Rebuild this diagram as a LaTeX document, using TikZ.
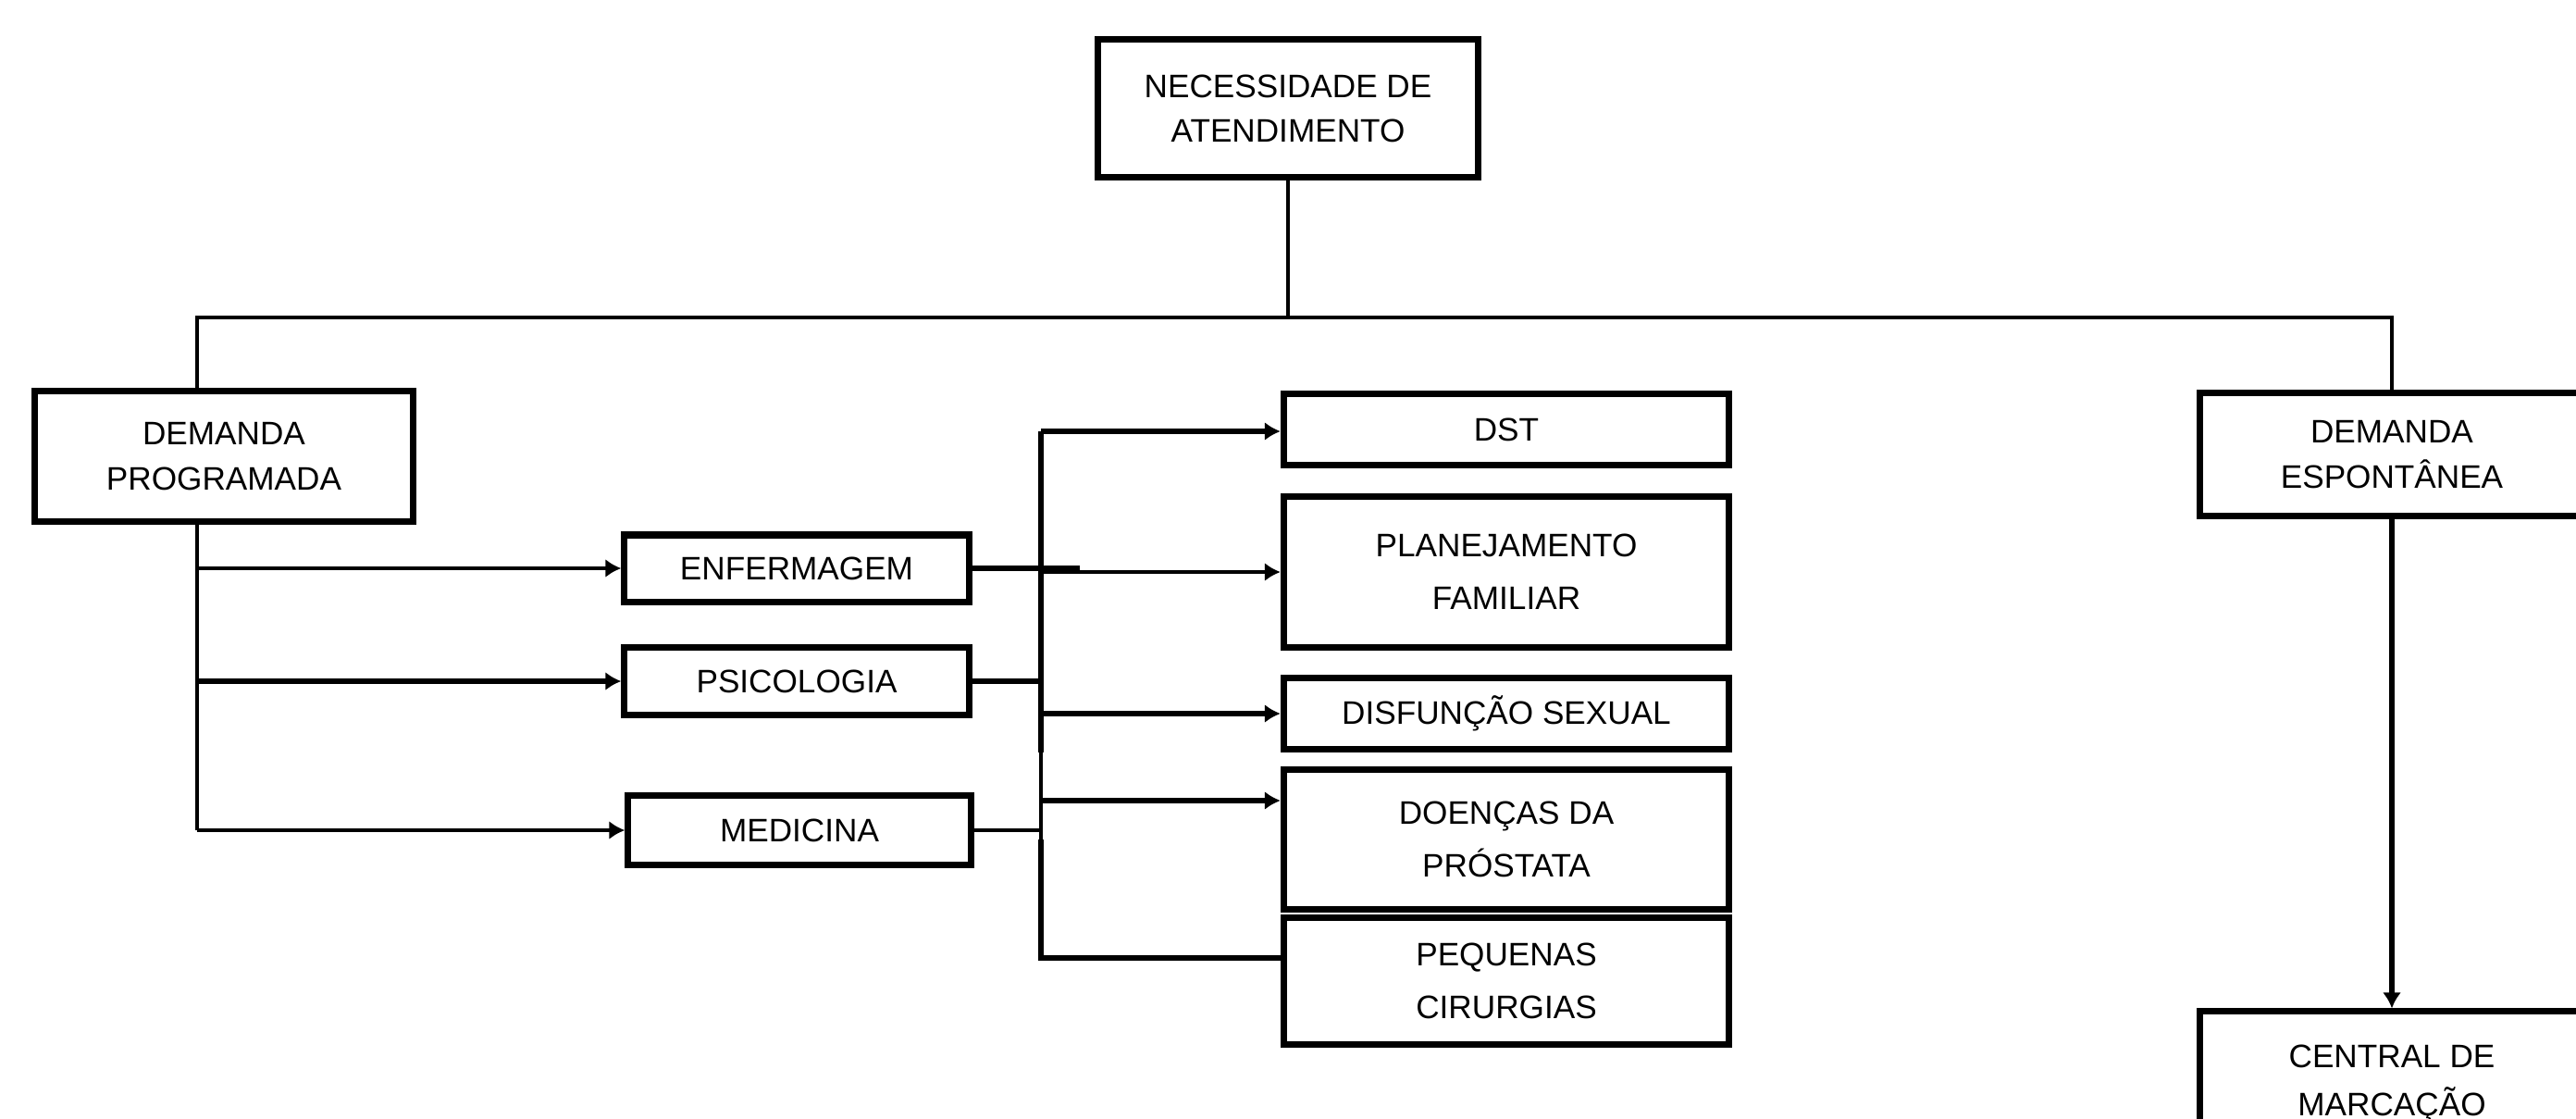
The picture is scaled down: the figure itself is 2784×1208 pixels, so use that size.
\documentclass[tikz,border=0pt]{standalone}
\usepackage{fontspec}
\setmainfont{Liberation Sans}
\usetikzlibrary{arrows.meta}

\begin{document}
\begin{tikzpicture}[x=0.01cm,y=-0.01cm,
    caixa/.style={draw,line width=2pt,align=center,inner sep=0pt,font=\fontsize{10}{13.7}\selectfont},
    caixad/.style={caixa,font=\fontsize{10}{16.2}\selectfont},
    fina/.style={line width=1.1pt},
    media/.style={line width=1.4pt},
    grossa/.style={line width=1.9pt},
    seta/.style={-{Latex[length=0.17cm,width=0.2cm]}}]
  \useasboundingbox (0,0) rectangle (2784,1208);
  \fill[white] (0,0) rectangle (2784,1208);
  \clip (0,0) rectangle (2784,1208);

  \node[caixa,minimum width=4.1cm,minimum height=1.48cm] (need) at (1392,117) {NECESSIDADE DE\\ATENDIMENTO};
  \node[caixa,minimum width=4.09cm,minimum height=1.4cm] (prog) at (242,493) {DEMANDA\\PROGRAMADA};
  \node[caixa,minimum width=4.14cm,minimum height=1.33cm] (esp) at (2585,491) {DEMANDA\\ESPONT\^ANEA};
  \node[caixa,minimum width=4.14cm,minimum height=1.56cm,font=\fontsize{10}{14.8}\selectfont] (central) at (2585,1171) {CENTRAL DE\\MARCAÇÃO};

  \node[caixa,minimum width=3.72cm,minimum height=0.72cm] (enf) at (861,614) {ENFERMAGEM};
  \node[caixa,minimum width=3.72cm,minimum height=0.73cm] (psi) at (861,736) {PSICOLOGIA};
  \node[caixa,minimum width=3.7cm,minimum height=0.75cm] (med) at (864,897) {MEDICINA};

  \node[caixad,minimum width=4.81cm,minimum height=0.77cm] (dst) at (1628,464) {DST};
  \node[caixad,minimum width=4.81cm,minimum height=1.63cm] (plan) at (1628,618) {PLANEJAMENTO\\FAMILIAR};
  \node[caixad,minimum width=4.81cm,minimum height=0.77cm] (disf) at (1628,771) {DISFUNÇÃO SEXUAL};
  \node[caixad,minimum width=4.81cm,minimum height=1.5cm] (doen) at (1628,907) {DOENÇAS DA\\PRÓSTATA};
  \node[caixad,minimum width=4.81cm,minimum height=1.36cm] (peq) at (1628,1060) {PEQUENAS\\CIRURGIAS};

  \coordinate (pl) at (213,343);
  \coordinate (jn) at (1125,466);
  \coordinate (st) at (1167,614);
  \coordinate (dk) at ([yshift=0.42cm]doen.west);
  \coordinate (pk) at ([yshift=0.25cm]peq.west);

  % topo
  \draw[fina] (need) -- (need |- pl);
  \draw[fina] (prog.north -| pl) -- (pl) -| (esp.north);

  % demanda programada
  \draw[fina] (prog.south -| pl) -- (pl |- med);
  \draw[fina,seta] (pl |- enf) -- (enf);
  \draw[grossa,seta] (pl |- psi) -- (psi);
  \draw[media,seta] (pl |- med) -- (med);

  % juncao
  \draw[grossa] (enf) -- (st);
  \draw[grossa] (psi) -- (jn |- psi);
  \draw[media] (med) -- (jn |- med);
  \draw[grossa] (jn) -- (jn |- disf.south);
  \draw[fina] (jn |- disf.south) -- (jn |- doen);
  \draw[grossa,seta] (jn) -- (jn -| dst.west);
  \draw[fina,seta] (jn |- plan) -- (plan);
  \draw[grossa,seta] (jn |- disf) -- (disf);
  \draw[grossa,seta] (jn |- dk) -- (dk);
  \draw[grossa] (jn |- doen) |- (pk);

  % demanda espontanea
  \draw[grossa,seta] (esp) -- (central);
\end{tikzpicture}
\end{document}
